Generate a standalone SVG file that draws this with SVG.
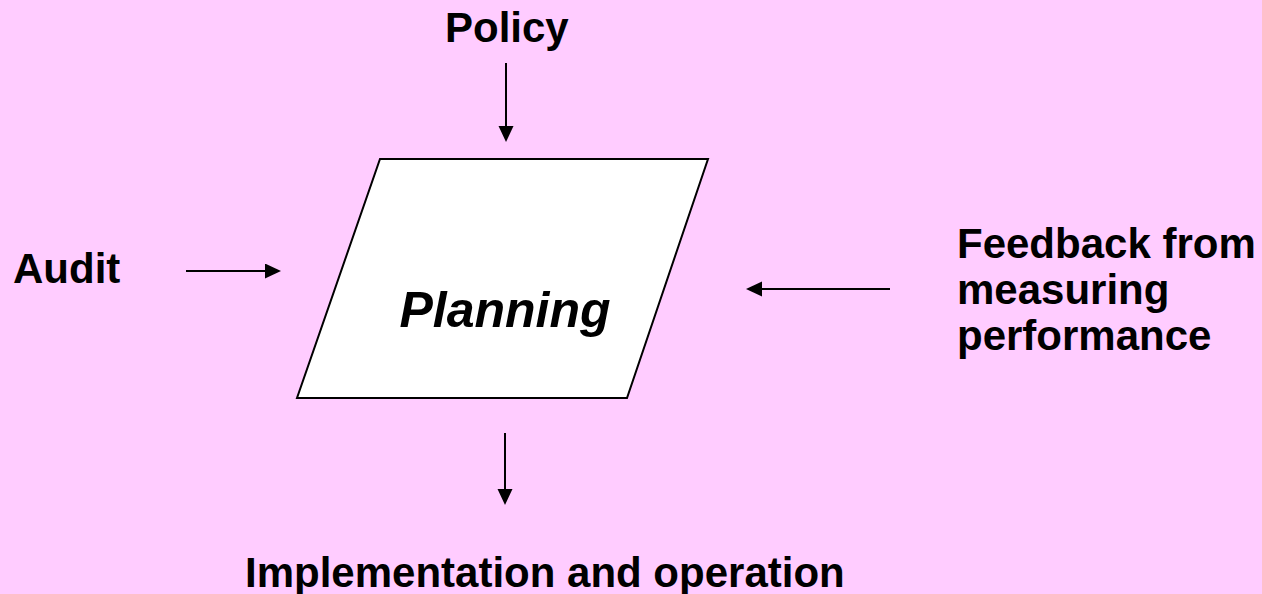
<svg xmlns="http://www.w3.org/2000/svg" width="1262" height="594" viewBox="0 0 1262 594">
  <style>
    .lbl { font-family: "Liberation Sans", Arial, sans-serif; font-weight: bold; font-size: 42px; fill: #000; }
    .title { font-family: "Liberation Sans", Arial, sans-serif; font-weight: bold; font-style: italic; font-size: 50px; fill: #000; }
    .conn { stroke: #000; stroke-width: 2; fill: none; }
    .shape { fill: #fff; stroke: #000; stroke-width: 2; }
  </style>
  <defs>
    <marker id="arrow" markerUnits="userSpaceOnUse" markerWidth="17" markerHeight="16" refX="5" refY="7.5" orient="auto">
      <path d="M0,0 L16,7.5 L0,15 z" fill="#000"/>
    </marker>
  </defs>
  <rect x="0" y="0" width="1262" height="594" fill="#FFCCFF"/>

  <g id="planning">
    <polygon class="shape" points="380,159 708,159 627,398 297,398"/>
    <text class="title" x="505" y="327" text-anchor="middle">Planning</text>
  </g>

  <g id="policy">
    <text class="lbl" x="445" y="42">Policy</text>
  </g>

  <g id="audit">
    <text class="lbl" x="13" y="283">Audit</text>
  </g>

  <g id="feedback">
    <text class="lbl" x="957" y="258">Feedback from</text>
    <text class="lbl" x="957" y="304">measuring</text>
    <text class="lbl" x="957" y="350">performance</text>
  </g>

  <g id="implementation">
    <text class="lbl" x="245" y="587">Implementation and operation</text>
  </g>

  <g id="connectors">
    <line class="conn" x1="506" y1="63" x2="506" y2="131" marker-end="url(#arrow)"/>
    <line class="conn" x1="186" y1="271" x2="270" y2="271" marker-end="url(#arrow)"/>
    <line class="conn" x1="890" y1="289" x2="757" y2="289" marker-end="url(#arrow)"/>
    <line class="conn" x1="505" y1="433" x2="505" y2="494" marker-end="url(#arrow)"/>
  </g>
</svg>
